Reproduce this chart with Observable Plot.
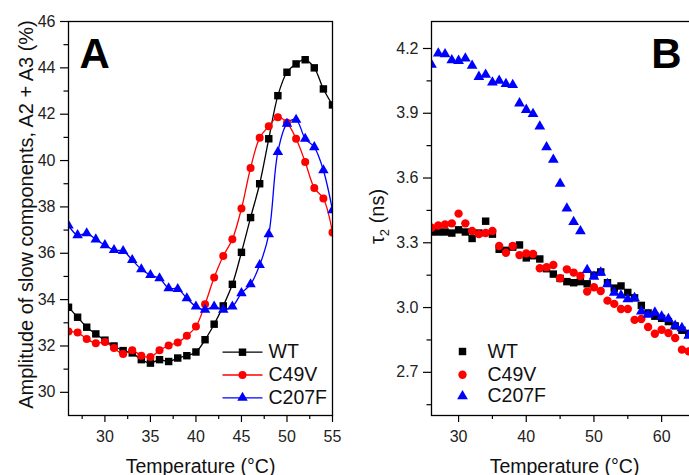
<!DOCTYPE html>
<html><head><meta charset="utf-8">
<script src="https://cdn.jsdelivr.net/npm/d3@7"></script>
<script src="https://cdn.jsdelivr.net/npm/@observablehq/plot@0.6"></script>
<style>
html,body{margin:0;padding:0;background:#fff;overflow:hidden}
#wrap{position:relative;width:689px;height:475px;overflow:hidden;background:#fff}
#wrap svg{position:absolute;top:0}
</style></head><body><div id="wrap"></div>
<script>
const FONT = '"Liberation Sans", Arial, Helvetica, sans-serif';

const seriesNames = ["WT", "C49V", "C207F"];
const seriesColors = ["#000000", "#ff0000", "#0000ff"];
const seriesSymbols = ["square", "circle", "triangle"];

// Panel A: amplitude of slow components (%)
const tempA = [26,27,28,29,30,31,32,33,34,35,36,37,38,39,40,41,42,43,44,45,46,47,48,49,50,51,52,53,54,55];
const wtA    = [33.67,33.24,32.81,32.52,32.25,32.0,31.8,31.7,31.41,31.26,31.41,31.33,31.48,31.58,31.74,32.27,32.94,33.73,34.66,36.04,37.54,39.0,40.94,42.80,43.81,44.17,44.35,44.0,43.09,42.40];
const c49vA  = [32.62,32.58,32.30,32.12,32.17,31.91,31.65,31.81,31.58,31.52,31.81,32.02,32.15,32.44,32.84,33.8,34.95,35.88,36.6,37.93,39.68,40.98,41.48,41.87,41.63,40.94,39.94,38.82,38.36,36.9];
const c207fA = [37.2,36.78,36.86,36.6,36.35,36.14,36.1,35.71,35.31,35.06,34.92,34.49,34.46,34.06,33.70,33.56,33.70,33.56,33.70,34.28,34.66,35.49,36.82,40.37,41.59,41.76,40.94,40.58,39.58,37.86];

// Panel B: tau2 (ns)
const tempB = [26,27,28,29,30,31,32,33,34,35,36,37,38,39,40,41,42,43,44,45,46,47,48,49,50,51,52,53,54,55,56,57,58,59,60,61,62,63,64];
const wtB    = [3.35,3.35,3.35,3.345,3.36,3.35,3.32,3.345,3.40,3.34,3.27,3.265,3.28,3.29,3.23,3.24,3.225,3.18,3.155,3.135,3.12,3.115,3.12,3.11,3.15,3.165,3.115,3.09,3.10,3.07,3.045,3.01,2.975,2.96,2.95,2.935,2.915,2.895,2.88];
const c49vB  = [3.37,3.38,3.385,3.39,3.435,3.39,3.355,3.34,3.345,3.355,3.285,3.254,3.285,3.243,3.251,3.248,3.182,3.187,3.197,3.136,3.177,3.162,3.146,3.074,3.094,3.077,3.032,3.017,2.993,2.993,2.943,2.947,2.910,2.879,2.897,2.882,2.859,2.805,2.797];
const c207fB = [4.125,4.177,4.174,4.146,4.143,4.154,4.12,4.069,4.079,4.043,4.051,4.036,4.031,3.946,3.916,3.897,3.839,3.743,3.685,3.574,3.459,3.397,3.354,3.174,3.143,3.162,3.109,3.069,3.056,3.039,3.044,2.982,2.967,2.977,2.959,2.947,2.916,2.905,2.87];

// Ticks
const majorAx = [30,35,40,45,50,55];
const minorAx = [27.5,32.5,37.5,42.5,47.5,52.5];
const majorAy = [30,32,34,36,38,40,42,44,46];
const minorAy = [31,33,35,37,39,41,43,45];
const majorBx = [30,40,50,60];
const minorBx = [35,45,55,65];
const majorBy = [2.7,3.0,3.3,3.6,3.9,4.2];
const minorBy = [2.55,2.85,3.15,3.45,3.75,4.05];

const xLabel = "Temperature (°C)";
const yLabelA = "Amplitude of slow components, A2 + A3 (%)";
const yLabelB = "τ2 (ns)";
const panelLetters = ["A", "B"];

function rows(temps, arrays) {
  return arrays.map((vals, i) => vals.map((v, j) => ({t: temps[j], v, s: seriesNames[i]})));
}
const seriesA = rows(tempA, [wtA, c49vA, c207fA]);
const seriesB = rows(tempB, [wtB, c49vB, c207fB]);

function axes(xMajor, xMinor, yMajor, yMinor, yFmt) {
  const base = {stroke: "#000", strokeWidth: 1.2, fill: "#222", fontSize: 16, label: null, fontFamily: FONT};
  return [
    Plot.axisX(xMajor, {...base, tickSize: 7, tickPadding: 8}),
    Plot.axisX(xMinor, {...base, tickSize: 4, tickFormat: () => ""}),
    Plot.axisY(yMajor, {...base, tickSize: 8, tickPadding: 5, tickFormat: yFmt}),
    Plot.axisY(yMinor, {...base, tickSize: 4.5, tickFormat: () => ""})
  ];
}

const lineSymbol = {draw(ctx) { ctx.moveTo(-20, 0); ctx.lineTo(20, 0); }};
const rA = [4.2, 4.0, 3.9];
const rB = [4.2, 4.2, 4.0];

// ---------- Panel A ----------
const legendRowsA = [-63.3, -40.5, -17.7];
const marksA = [
  ...axes(majorAx, minorAx, majorAy, minorAy, d3.format("d")),
  ...seriesA.map((data, i) => Plot.line(data, {x: "t", y: "v", stroke: seriesColors[i], strokeWidth: 1.3, curve: "catmull-rom", clip: true})),
  ...seriesA.map((data, i) => Plot.dot(data, {x: "t", y: "v", symbol: seriesSymbols[i], fill: seriesColors[i], r: rA[i], clip: true})),
  Plot.frame({stroke: "#000", strokeWidth: 1.3}),
  Plot.text([panelLetters[0]], {text: d => d, frameAnchor: "top-left", dx: 11, dy: 46, lineAnchor: "bottom", fontSize: 42, fontWeight: "bold", fill: "#000", fontFamily: FONT}),
  Plot.text([xLabel], {text: d => d, frameAnchor: "bottom", dy: 57, lineAnchor: "bottom", fontSize: 19.5, fill: "#111", fontFamily: FONT}),
  Plot.text([yLabelA], {text: d => d, frameAnchor: "left", rotate: -90, dx: -42, dy: -4, lineAnchor: "middle", textAnchor: "middle", fontSize: 20, fill: "#111", fontFamily: FONT}),
  ...seriesNames.flatMap((name, i) => [
    Plot.dot([name], {frameAnchor: "bottom-left", dx: 174, dy: legendRowsA[i], symbol: lineSymbol, stroke: seriesColors[i], fill: "none", strokeWidth: 1.3, r: 4}),
    Plot.dot([name], {frameAnchor: "bottom-left", dx: 174, dy: legendRowsA[i], symbol: seriesSymbols[i], fill: seriesColors[i], r: rA[i]}),
    Plot.text([name], {text: d => d, frameAnchor: "bottom-left", dx: 200, dy: legendRowsA[i], textAnchor: "start", lineAnchor: "middle", fontSize: 19.5, fill: "#111", fontFamily: FONT})
  ])
];
const plotA = Plot.plot({
  width: 345, height: 475,
  marginLeft: 68, marginRight: 13, marginTop: 21, marginBottom: 60,
  style: {fontFamily: FONT, background: "transparent", overflow: "visible"},
  x: {domain: [26, 55]},
  y: {domain: [29, 46]},
  marks: marksA
});
plotA.style.left = "0px";

// ---------- Panel B ----------
const legendRowsB = [-64, -40.7, -19.3];
const marksB = [
  ...axes(majorBx, minorBx, majorBy, minorBy, d3.format(".1f")),
  ...seriesB.map((data, i) => Plot.dot(data, {x: "t", y: "v", symbol: seriesSymbols[i], fill: seriesColors[i], r: rB[i], clip: true})),
  Plot.frame({stroke: "#000", strokeWidth: 1.3}),
  Plot.text([panelLetters[1]], {text: d => d, frameAnchor: "top-right", dx: -16, dy: 46, lineAnchor: "bottom", textAnchor: "end", fontSize: 42, fontWeight: "bold", fill: "#000", fontFamily: FONT}),
  Plot.text([xLabel], {text: d => d, frameAnchor: "bottom", dy: 57, lineAnchor: "bottom", fontSize: 19.5, fill: "#111", fontFamily: FONT}),
  Plot.text([yLabelB], {text: d => d, frameAnchor: "left", rotate: -90, dx: -54, dy: -2, lineAnchor: "middle", textAnchor: "middle", fontSize: 20, fill: "#111", fontFamily: FONT}),
  ...seriesNames.flatMap((name, i) => [
    Plot.dot([name], {frameAnchor: "bottom-left", dx: 31, dy: legendRowsB[i], symbol: seriesSymbols[i], fill: seriesColors[i], r: rB[i]}),
    Plot.text([name], {text: d => d, frameAnchor: "bottom-left", dx: 56, dy: legendRowsB[i], textAnchor: "start", lineAnchor: "middle", fontSize: 19.5, fill: "#111", fontFamily: FONT})
  ])
];
const plotB = Plot.plot({
  width: 362, height: 475,
  marginLeft: 86, marginRight: 10, marginTop: 21, marginBottom: 60,
  style: {fontFamily: FONT, background: "transparent", overflow: "visible"},
  x: {domain: [26, 65.3]},
  y: {domain: [2.5, 4.325]},
  marks: marksB
});
plotB.style.left = "345px";

// subscript for tau2
d3.select(plotB).selectAll("text").filter(function () { return this.textContent === yLabelB; }).each(function () {
  const t = d3.select(this);
  t.text(null);
  t.append("tspan").text("τ");
  t.append("tspan").attr("font-size", 13).attr("dy", 5).text("2");
  t.append("tspan").attr("dy", -5).text(" (ns)");
});

const wrap = document.getElementById("wrap");
wrap.appendChild(plotA);
wrap.appendChild(plotB);
</script></body></html>
